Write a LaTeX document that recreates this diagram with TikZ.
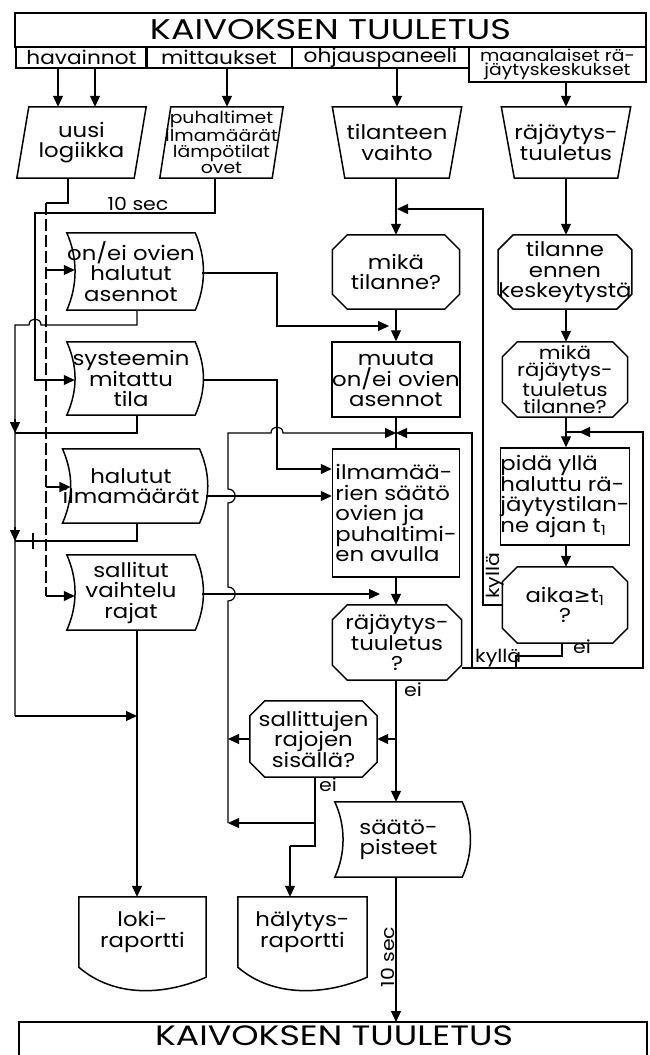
\documentclass[tikz,border=0pt]{standalone}
\usepackage{fontspec}
\setmainfont{Poppins}[FakeStretch=1.14]
\newfontfamily\symfont{DejaVu Sans}
\usetikzlibrary{arrows.meta,calc}

\newcommand\fs[2]{\fontsize{#1}{#2}\selectfont}
% outlines of the flowchart symbols, drawn round a named node
\newcommand\drawOcto[2][15]{\draw[outline] ($(#2.north west)+(#1,0)$) -- ($(#2.north east)+(-#1,0)$) -- ($(#2.north east)+(0,#1)$) -- ($(#2.south east)+(0,-#1)$) -- ($(#2.south east)+(-#1,0)$) -- ($(#2.south west)+(#1,0)$) -- ($(#2.south west)+(0,-#1)$) -- ($(#2.north west)+(0,#1)$) -- cycle;}
\newcommand\drawTrap[2][13]{\draw[outline] (#2.north west) -- (#2.north east) -- ($(#2.south east)+(-#1,0)$) -- ($(#2.south west)+(#1,0)$) -- cycle;}
\newcommand\drawPara[2][12]{\draw[outline] ($(#2.north west)+(#1,0)$) -- (#2.north east) -- ($(#2.south east)+(-#1,0)$) -- (#2.south west) -- cycle;}
\newcommand\drawStore[2][25]{\draw[outline] (#2.north west) .. controls +(11,#1) and +(11,-#1) .. (#2.south west) -- (#2.south east) .. controls +(11,-#1) and +(11,#1) .. (#2.north east) -- cycle;}
\newcommand\drawDoc[1]{\draw[outline] (#1.north west) -- (#1.north east) -- ($(#1.south east)+(0,10)$) .. controls +(-41,18) and +(36,31) .. (#1.south west) -- cycle;}

\begin{document}
\begin{tikzpicture}[x=1pt,y=-1pt,
  outline/.style={line width=1.5pt, line join=miter},
  wire/.style={line width=1.2pt},
  arr/.style={wire,-{Triangle[length=11pt,width=10pt]}},
  dashwire/.style={wire, dash pattern=on 12pt off 4pt},
  shp/.style={inner sep=0pt, align=center, font=\fs{20}{20.5}},
  hdr/.style={draw, outline, inner sep=0pt, align=center, font=\fs{19}{20}},
  lbl/.style={inner sep=1pt, font=\fs{18}{19}},
]
\fill[white] (0,0) rectangle (650,1055);
\useasboundingbox (0,0) rectangle (650,1055);

% ---------- header ----------
\node[hdr, minimum width=631pt, minimum height=34pt, font=\fs{28.5}{30}] (title) at (330.5,30) {\scalebox{1.08}[1]{KAIVOKSEN TUULETUS}};
\node[hdr, minimum width=131pt, minimum height=21pt] (hHav) at (81.5,57.5) {havainnot};
\node[hdr, minimum width=146pt, minimum height=21pt] (hMit) at (219,57.5) {mittaukset};
\node[hdr, minimum width=177pt, minimum height=21pt] (hOhj) at (380.5,57.5) {ohjauspaneeli};
\node[hdr, minimum width=177pt, minimum height=35pt, font=\fs{16.5}{14.5}] (hMaa) at (557.5,64.5) {maanalaiset rä-\\jäytyskeskukset};

% ---------- input symbols ----------
\node[shp, minimum width=129pt, minimum height=71pt] (uusi) at (81.5,142.5) {uusi\\logiikka};
\node[shp, minimum width=123pt, minimum height=71pt, font=\fs{16.5}{16}] (puh) at (221.5,142.5) {puhaltimet\\ilmamäärät\\lämpötilat\\ovet};
\node[shp, minimum width=129pt, minimum height=71pt] (tila) at (397,142.5) {tilanteen\\vaihto};
\node[shp, minimum width=129pt, minimum height=71pt] (rajT) at (566,142.5) {räjäytys-\\tuuletus};
\drawPara[12]{uusi}
\drawPara[11]{puh}
\drawTrap[12.5]{tila}
\drawTrap[13]{rajT}

% ---------- stored data, left column ----------
\node[shp, minimum width=128pt, minimum height=77pt] (onei) at (131,271.5) {on/ei ovien\\halutut\\asennot};
\node[shp, minimum width=128pt, minimum height=73pt] (syst) at (131,378.5) {systeemin\\mitattu\\tila};
\node[shp, minimum width=128pt, minimum height=74pt] (halu) at (131,486) {halutut\\ilmamäärät};
\node[shp, minimum width=128pt, minimum height=75pt] (sall) at (131,592.5) {sallitut\\vaihtelu\\rajat};
\drawStore{onei}
\drawStore{syst}
\drawStore{halu}
\drawStore{sall}

% ---------- centre column ----------
\node[shp, minimum width=127pt, minimum height=74pt] (mika) at (396,272) {mikä\\tilanne?};
\node[shp, draw, outline, minimum width=127pt, minimum height=75pt] (muuta) at (396,379.5) {muuta\\on/ei ovien\\asennot};
\node[shp, draw, outline, minimum width=127pt, minimum height=128pt, align=left] (ilma) at (396,513) {ilmamää-\\rien säätö\\ovien ja\\puhaltimi-\\en avulla};
\node[shp, minimum width=129pt, minimum height=75pt] (rajQ) at (397,642.5) {räjäytys-\\tuuletus\\?};
\drawOcto{mika}
\drawOcto{rajQ}

% ---------- right column ----------
\node[shp, minimum width=125pt, minimum height=74pt] (enn) at (565,272) {tilanne\\ennen\\keskeytystä};
\node[shp, minimum width=125pt, minimum height=75pt, font=\fs{18.5}{17}] (mraj) at (565,379.5) {mikä\\räjäytys-\\tuuletus\\tilanne?};
\node[shp, draw, outline, minimum width=125pt, minimum height=97pt, align=left] (pida) at (565,496.5) {pidä yllä\\haluttu rä-\\jäytystilan-\\ne ajan t\textsubscript{1}};
\node[shp, minimum width=125pt, minimum height=76pt] (aika) at (565,605) {aika{\symfont≥}t\textsubscript{1}\\?};
\drawOcto{enn}
\drawOcto{mraj}
\drawOcto{aika}

% ---------- lower part ----------
\node[shp, minimum width=127pt, minimum height=76pt] (sallj) at (313.5,739) {sallittujen\\rajojen\\sisällä?};
\drawOcto{sallj}
\node[shp, minimum width=127pt, minimum height=75pt] (saato) at (398.5,839.5) {säätö-\\pisteet};
\drawStore[24]{saato}
\node[shp, minimum width=127pt, minimum height=70pt] (loki) at (142.5,932) {loki-\\raportti};
\node[shp, minimum width=129pt, minimum height=70pt] (haly) at (302.5,932) {hälytys-\\raportti};
\drawDoc{loki}
\drawDoc{haly}
% closing box, running off the lower edge of the page
\draw[outline] (19,1062) -- (19,1022) coordinate (btl) -- (647,1022) -- (647,1062);
\node[inner sep=0pt, font=\fs{28}{28}] (bottom) at (334,1036) {\scalebox{1.09}[1]{KAIVOKSEN TUULETUS}};

% ---------- header feeds ----------
\draw[arr] (hHav.south -| 58,0) -- (58,0 |- uusi.north);
\draw[arr] (hHav.south -| 95,0) -- (95,0 |- uusi.north);
\draw[arr] (hMit.south -| 227,0) -- (227,0 |- puh.north);
\draw[arr] (hOhj.south -| tila.north) -- (tila.north);
\draw[arr] (hMaa.south -| rajT.north) -- (rajT.north);

% ---------- new logic (dashed) and measurements ----------
\coordinate (dtop) at (46,203);
\draw[wire] (uusi.south -| 68,0) -- (68,203) -- (dtop);
\draw[dashwire] (dtop) -- (46,596);
\draw[arr] (46,596) -- ([xshift=8pt]sall.west |- 0,596);
\draw[arr] (46,270) -- ([xshift=8pt]onei.west |- 0,270);
\draw[arr] (46,487) -- ([xshift=8pt]halu.west |- 0,487);
\draw[arr] (puh.south -| 215,0) -- (215,213) -- (35,213) |- ([xshift=8pt]syst.west |- 0,380);
\node[lbl] (tensec) at (138,204) {10 sec};

% ---------- lines on the far left ----------
\draw[wire] (onei.south -| 137,0) -- (137,325) -- (41,325) .. controls (41,317) and (29,317) .. (29,325) -- (15,325) -- (15,716);
\draw[arr] (15,716) -- (137,716);
\draw[wire] (syst.south -| 137,0) -- (137,433) -- (15,433);
\draw[arr] (15,419) -- (15,433);
\draw[wire] (halu.south -| 137,0) -- (137,541) -- (15,541);
\draw[arr] (15,527) -- (15,541);
\draw[wire] (33,533) -- (33,549);
\draw[arr] (sall.south -| 137,0) -- (137,0 |- loki.north);

% ---------- stored data into the control ----------
\draw[arr] ([xshift=7pt]onei.east |- 0,273) -- (277,273) -- (277,326) -- (389,326);
\draw[arr] ([xshift=8pt]syst.east |- 0,380) -- (277,380) -- (277,469) -- (ilma.west |- 0,469);
\draw[arr] ([xshift=6pt]halu.east |- 0,496) -- (ilma.west |- 0,496);
\draw[arr] ([xshift=7pt]sall.east |- 0,594) -- (380,594);

% ---------- return line at x = 228 with hops ----------
\coordinate (ret) at (228,823);
\draw[arr] (ret) -- (228,601) .. controls (237.5,601) and (237.5,587) .. (228,587)
  -- (228,503) .. controls (237.5,503) and (237.5,489) .. (228,489)
  -- (228,433) -- (271,433) .. controls (271,425) and (283,425) .. (283,433) -- (muuta.south |- 0,433);
\draw[arr] (472,668) -- (472,433) -- (muuta.south |- 0,433);

% ---------- centre flow ----------
\draw[arr] (tila.south -| mika.north) -- (mika.north);
\draw[arr] (mika.south) -- (muuta.north);
\draw[wire] (muuta.south) -- (ilma.north);
\draw[arr] (ilma.south) -- (ilma.south |- rajQ.north);
\draw[arr] (ilma.south |- rajQ.south) -- (ilma.south |- saato.north);
\draw[arr] (ilma.south |- saato.south) -- (ilma.south |- btl);
\node[lbl, rotate=90] (tensec2) at (388,957) {10 sec};
\node[lbl, anchor=north west] (ei1) at (403,682) {ei};
\draw[arr] (ilma.south |- sallj.east) -- (sallj.east);
\draw[arr] (sallj.west) -- (ret |- sallj.west);
\draw[wire] (sallj.south -| 315,0) -- (315,846) -- (290,846) coordinate (hb);
\draw[arr] (hb) -- (hb |- haly.north);
\draw[arr] (315,823) -- (ret);
\node[lbl, anchor=north west] (ei2) at (318,777) {ei};

% ---------- right column flow ----------
\draw[arr] (rajT.south) -- (rajT.south |- enn.north);
\draw[arr] (rajT.south |- enn.south) -- (rajT.south |- mraj.north);
\draw[arr] (rajT.south |- mraj.south) -- (rajT.south |- pida.north);
\draw[arr] (rajT.south |- pida.south) -- (rajT.south |- aika.north);
\draw[wire] (rajQ.east |- 0,668) -- (643,668) -- (643,432) -- (rajT.south |- 0,432);
\draw[arr] (604,432) -- (579,432);
\node[lbl, anchor=south west] (ky1) at (474,668) {kyllä};
\draw[wire] (aika.south -| 562,0) -- (562,656) -- (516,656) -- (516,668);
\node[lbl, anchor=north west] (ei3) at (572,639) {ei};
\draw[arr] (aika.west) -- (483,0 |- aika.west) -- (483,209) -- (tila.south |- 0,209);
\node[lbl, rotate=90, anchor=north west] (ky2) at (485,600) {kyllä};

\end{tikzpicture}
\end{document}
